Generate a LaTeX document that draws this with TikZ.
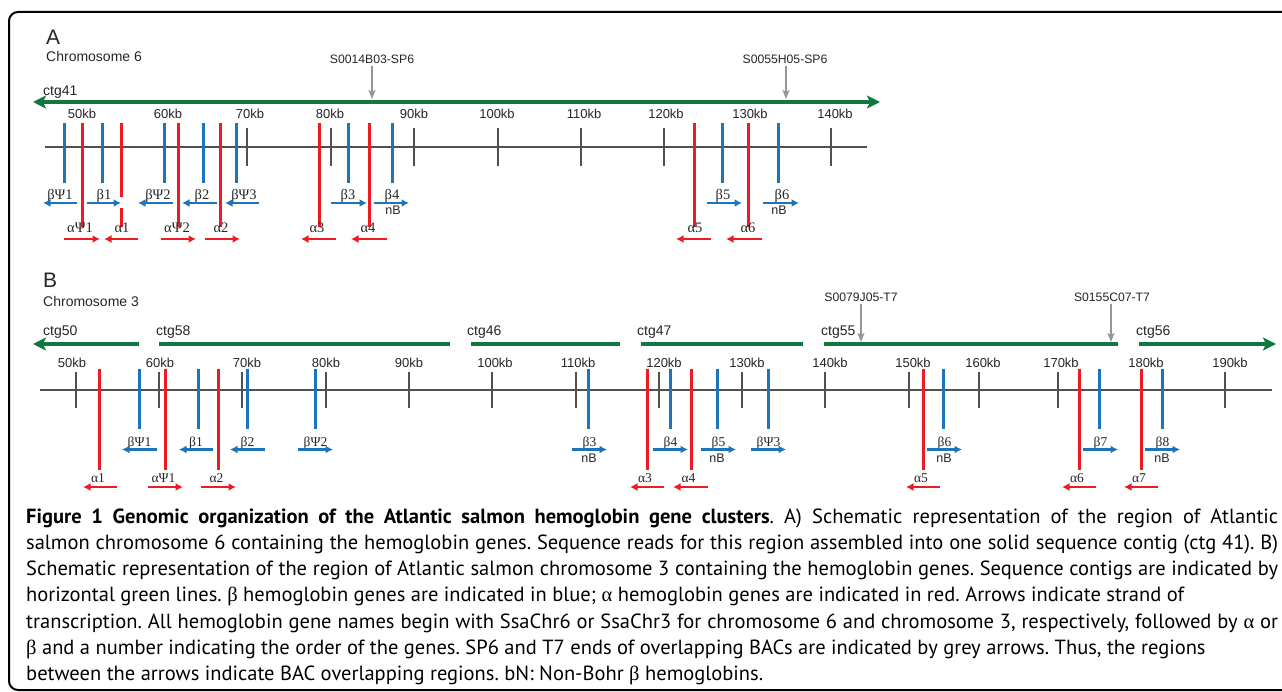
\documentclass[tikz,border=0pt]{standalone}
\usepackage{fontspec}
\setmainfont{PT Sans}
\newfontfamily\hel{Liberation Sans}
\newfontfamily\tms{Liberation Serif}
\usetikzlibrary{arrows.meta}
\definecolor{gred}{RGB}{237,28,36}
\definecolor{gblue}{RGB}{28,117,188}
\definecolor{ggreen}{RGB}{16,120,62}
\definecolor{ggrey}{RGB}{150,150,150}
\definecolor{gaxis}{RGB}{80,80,80}
\frenchspacing
\begin{document}
\begin{tikzpicture}[x=1pt,y=-1pt,
  bline/.style={draw=gblue,line width=3pt},
  rline/.style={draw=gred,line width=3pt},
  barr/.style={draw=gblue,line width=2.5pt,-{Latex[length=7.5pt,width=8pt]}},
  rarr/.style={draw=gred,line width=2.5pt,-{Latex[length=7.5pt,width=8pt]}},
  ctg/.style={draw=ggreen,line width=4pt},
  ghead/.tip={Stealth[length=13pt,width=13pt,inset=3pt]},
  bacarr/.style={draw=ggrey,line width=1.6pt,-{Stealth[length=9pt,width=7pt,inset=2pt]}},
  axisline/.style={draw=gaxis,line width=1.4pt},
  tickline/.style={draw=gaxis,line width=1.2pt},
  lab/.style={inner sep=0pt,anchor=base,text=black!85},
  kb/.style={lab,font=\hel\fontsize{13}{15}\selectfont},
  bac/.style={lab,font=\hel\fontsize{12.2}{14}\selectfont},
  ctgl/.style={lab,anchor=base west,font=\hel\fontsize{14}{16}\selectfont},
  nb/.style={lab,font=\hel\fontsize{12.5}{14}\selectfont},
  glA/.style={lab,font=\tms\fontsize{14.5}{16}\selectfont},
  glB/.style={lab,font=\tms\fontsize{13.5}{15}\selectfont},
  captext/.style={inner sep=0pt,anchor=base west,font=\fontsize{20.5}{26}\selectfont}
]
\useasboundingbox (0,0) rectangle (1282,692);
\clip (0,0) rectangle (1282,692);
\fill[white] (0,0) rectangle (1282,692);
\draw[line width=2pt,rounded corners=9pt] (9,12) rectangle (1300,690);

%================ Panel A
\node[lab,anchor=base west,font=\hel\fontsize{21}{22}\selectfont] (pA) at (46,45) {A};
\node[lab,anchor=base west,font=\hel\fontsize{14}{16}\selectfont] (chr6) at (46,62) {Chromosome 6};
\node[ctgl] (ctg41) at (43,96) {ctg41};
\coordinate (gA1) at (33,102);
\coordinate (gA2) at (880,102);
\draw[ctg,{ghead}-{ghead}] (gA1) -- (gA2);
\node[bac] (bacA1) at (372,64) {S0014B03-SP6};
\node[bac] (bacA2) at (785,64) {S0055H05-SP6};
\coordinate (bacA1e) at (372,99);
\coordinate (bacA2e) at (786,99);
\draw[bacarr] ([yshift=-2pt]bacA1.south) -- (bacA1e);
\draw[bacarr] ([xshift=1pt,yshift=-2pt]bacA2.south) -- (bacA2e);

\coordinate (axA1) at (45,147);
\coordinate (axA2) at (867,147);
\draw[axisline] (axA1) -- (axA2);
\foreach \x in {82,164,247,331,414,498,581,664,748,831}
  \draw[tickline] (\x,128) -- (\x,166);
\foreach \x/\t in {82/50,168/60,250/70,330/80,414/90,497/100,584/110,666/120,750/130,835/140}
  \node[kb] (kA\t) at (\x,119) {\t kb};

\foreach \x in {64,102,164,203,236,348,392,722,778}
  \draw[bline] (\x,123) -- (\x,183);
\foreach \x in {82,178,220,319,369,694,748}
  \draw[rline] (\x,123) -- (\x,227);
\draw[rline] (121,123) -- (121,197);
\draw[rline] (121,208) -- (121,227);

\foreach \a/\b/\lx/\t/\n in {77/43/60/βΨ1/1, 87/121/104/β1/2, 173/138/158/βΨ2/3, 217/182/202/β2/4, 259/225/244/βΨ3/5, 331/367/348/β3/6, 374/409/392/β4/7, 707/742/723/β5/8, 763/799/782/β6/9}
{
  \node[glA] (bAl\n) at (\lx,200) {\t};
  \draw[barr] (\a,203) -- (\b,203);
}
\node[nb] (nbA1) at (393,215) {nB};
\node[nb] (nbA2) at (779,215) {nB};

\foreach \a/\b/\lx/\t/\n in {64/100/80/αΨ1/1, 138/104/122/α1/2, 161/196/177/αΨ2/3, 205/240/221/α2/4, 336/301/317/α3/5, 387/351/368/α4/6, 711/676/695/α5/7, 762/726/748/α6/8}
{
  \node[glA] (rAl\n) at (\lx,233) {\t};
  \draw[rarr] (\a,239) -- (\b,239);
}

%================ Panel B
\node[lab,anchor=base west,font=\hel\fontsize{21}{22}\selectfont] (pB) at (43,288) {B};
\node[lab,anchor=base west,font=\hel\fontsize{14}{16}\selectfont] (chr3) at (43,307) {Chromosome 3};

\node[ctgl] (ctg50) at (43,336) {ctg50};
\node[ctgl] (ctg58) at (156,336) {ctg58};
\node[ctgl] (ctg46) at (467,336) {ctg46};
\node[ctgl] (ctg47) at (637,336) {ctg47};
\node[ctgl] (ctg55) at (821,336) {ctg55};
\node[ctgl] (ctg56) at (1136,336) {ctg56};
\draw[ctg,{ghead}-] (33,344) -- (139,344);
\draw[ctg] (159,344) -- (450,344);
\draw[ctg] (471,344) -- (620,344);
\draw[ctg] (641,344) -- (803,344);
\draw[ctg] (824,344) -- (1118,344);
\draw[ctg,-{ghead}] (1139,344) -- (1276,344);

\node[bac] (bacB1) at (861,302) {S0079J05-T7};
\node[bac] (bacB2) at (1112,302) {S0155C07-T7};
\coordinate (bacB1e) at (861,342);
\coordinate (bacB2e) at (1111,342);
\draw[bacarr] ([yshift=-2pt]bacB1.south) -- (bacB1e);
\draw[bacarr] ([xshift=-1pt,yshift=-2pt]bacB2.south) -- (bacB2e);

\coordinate (axB1) at (40,390);
\coordinate (axB2) at (1272,390);
\draw[axisline] (axB1) -- (axB2);
\foreach \x in {76,159,242,326,409,492,576,659,742,825,909,979,1058,1141,1225}
  \draw[tickline] (\x,372) -- (\x,408);
\foreach \x/\t in {72/50,160/60,247/70,326/80,409/90,495/100,578/110,664/120,747/130,830/140,913/150,983/160,1061/170,1146/180,1230/190}
  \node[kb] (kB\t) at (\x,367) {\t kb};

\foreach \x in {139,198,247,315,588,670,717,768,943,1099,1162}
  \draw[bline] (\x,369) -- (\x,429);
\foreach \x in {99,165,218,647,691,923,1079,1141}
  \draw[rline] (\x,369) -- (\x,470);

\foreach \a/\b/\t/\n in {157/122/βΨ1/1, 213/179/β1/2, 265/230/β2/3, 298/333/βΨ2/4, 572/607/β3/5, 653/688/β4/6, 701/736/β5/7, 751/786/βΨ3/8, 927/962/β6/9, 1083/1118/β7/10, 1145/1180/β8/11}
{
  \node[glB] (bBl\n) at ({(\a+\b)/2},446) {\t};
  \draw[barr] (\a,449.5) -- (\b,449.5);
}
\node[nb] (nbB1) at (589,462) {nB};
\node[nb] (nbB2) at (717,462) {nB};
\node[nb] (nbB3) at (944,462) {nB};
\node[nb] (nbB4) at (1162,462) {nB};

\foreach \a/\b/\t/\n in {117/83/α1/1, 148/183/αΨ1/2, 201/236/α2/3, 664/630/α3/4, 708/673/α4/5, 940/906/α5/6, 1096/1062/α6/7, 1158/1124/α7/8}
{
  \node[glB] (rBl\n) at ({(\a+\b)/2-2},482) {\t};
  \draw[rarr] (\a,487) -- (\b,487);
}

%================ Caption
\node[captext] (c1) at (26,523) {\makebox[1252pt][s]{\textbf{Figure 1 Genomic organization of the Atlantic salmon hemoglobin gene clusters}. A) Schematic representation of the region of Atlantic}};
\node[captext] (c2) at (26,549.3) {\makebox[1252pt][s]{salmon chromosome 6 containing the hemoglobin genes. Sequence reads for this region assembled into one solid sequence contig (ctg 41). B)}};
\node[captext] (c3) at (26,575.6) {\makebox[1252pt][s]{Schematic representation of the region of Atlantic salmon chromosome 3 containing the hemoglobin genes. Sequence contigs are indicated by}};
\node[captext] (c4) at (26,601.9) {horizontal green lines. {\tms β} hemoglobin genes are indicated in blue; {\tms α} hemoglobin genes are indicated in red. Arrows indicate strand of};
\node[captext] (c5) at (26,628.2) {\makebox[1252pt][s]{transcription. All hemoglobin gene names begin with SsaChr6 or SsaChr3 for chromosome 6 and chromosome 3, respectively, followed by {\tms α} or}};
\node[captext] (c6) at (26,654.5) {{\tms β} and a number indicating the order of the genes. SP6 and T7 ends of overlapping BACs are indicated by grey arrows. Thus, the regions};
\node[captext] (c7) at (26,680.8) {between the arrows indicate BAC overlapping regions. bN: Non-Bohr {\tms β} hemoglobins.};
\end{tikzpicture}
\end{document}
